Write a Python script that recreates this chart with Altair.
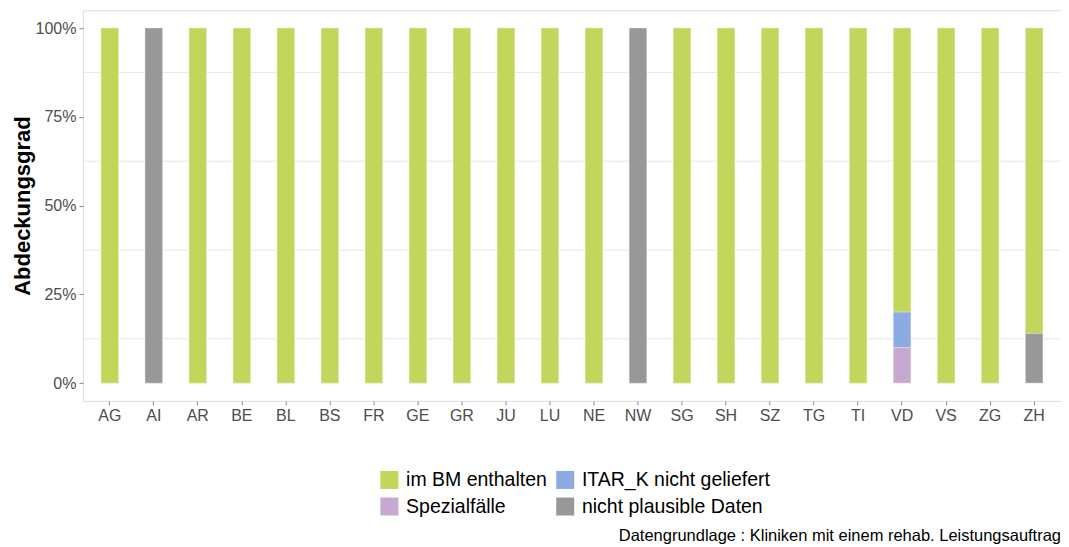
import altair as alt
import pandas as pd

cantons = ["AG","AI","AR","BE","BL","BS","FR","GE","GR","JU","LU","NE","NW",
           "SG","SH","SZ","TG","TI","VD","VS","ZG","ZH"]
im_bm      = [1,0,1,1,1,1,1,1,1,1,1,1,0,1,1,1,1,1,0.80,1,1,0.86]
itar_k     = [0,0,0,0,0,0,0,0,0,0,0,0,0,0,0,0,0,0,0.10,0,0,0]
spezial    = [0,0,0,0,0,0,0,0,0,0,0,0,0,0,0,0,0,0,0.10,0,0,0]
nicht_pl   = [0,1,0,0,0,0,0,0,0,0,0,0,1,0,0,0,0,0,0,0,0,0.14]

# legend order (column-major fill in Vega legends with 2 rows)
status_names = ["im BM enthalten", "Spezialfälle", "ITAR_K nicht geliefert", "nicht plausible Daten"]
status_colors = ["#c1d65b", "#c7a8d1", "#8eaae2", "#989898"]
stack_order = {"nicht plausible Daten": 0, "Spezialfälle": 1, "ITAR_K nicht geliefert": 2, "im BM enthalten": 3}

y_ticks = [0, 0.25, 0.5, 0.75, 1.0]
minor_grid = [0.125, 0.375, 0.625, 0.875]
caption = "Datengrundlage : Kliniken mit einem rehab. Leistungsauftrag"

series = {"im BM enthalten": im_bm, "ITAR_K nicht geliefert": itar_k,
          "Spezialfälle": spezial, "nicht plausible Daten": nicht_pl}
rows = []
for i, c in enumerate(cantons):
    for name, arr in series.items():
        if arr[i] > 0:
            rows.append({"Kanton": c, "Status": name, "Anteil": arr[i], "ord": stack_order[name]})
df = pd.DataFrame(rows)

font = "Liberation Sans"
W, H = 979, 391

xscale = alt.Scale(domain=cantons, paddingInner=0.6, paddingOuter=0.41)
yscale = alt.Scale(domain=[-0.05, 1.05], nice=False, zero=False)

grid = alt.Chart(pd.DataFrame({"g": minor_grid})).mark_rule(
    color="#e6e6e6", strokeWidth=1
).encode(y=alt.Y("g:Q", scale=yscale))

bars = alt.Chart(df).mark_bar(stroke="#f0f0f0", strokeWidth=0.4).encode(
    x=alt.X("Kanton:N", scale=xscale, sort=cantons,
            axis=alt.Axis(title=None, labelAngle=0, labelFontSize=16, labelColor="#4d4d4d",
                          labelFont=font, domain=False, ticks=True, tickSize=4,
                          tickColor="#888888", labelPadding=3, grid=False)),
    y=alt.Y("Anteil:Q", scale=yscale, stack="zero",
            axis=alt.Axis(title="Abdeckungsgrad", values=y_ticks, format=".0%",
                          labelFontSize=16, labelColor="#4d4d4d", labelFont=font,
                          titleFontSize=22, titleFont=font, titleFontWeight="bold",
                          titleColor="#000000", titlePadding=1, domain=False,
                          tickSize=4, tickColor="#888888", labelPadding=3, grid=False)),
    color=alt.Color("Status:N",
                    scale=alt.Scale(domain=status_names, range=status_colors),
                    legend=alt.Legend(title=None, orient="none", legendX=297, legendY=460,
                                      columns=2, symbolType="square", symbolSize=324,
                                      symbolStrokeWidth=0, labelFontSize=19.5, labelFont=font,
                                      labelColor="#000000", rowPadding=6, columnPadding=8,
                                      labelOffset=7, labelLimit=400)),
    order=alt.Order("ord:Q", sort="ascending"),
)

cap = alt.Chart(pd.DataFrame({"t": [caption]})).mark_text(
    align="right", baseline="middle", fontSize=16.5, font=font, color="#000000"
).encode(text="t:N", x=alt.value(W), y=alt.value(526))

chart = alt.layer(grid, bars, cap).properties(
    width=W, height=H,
    autosize=alt.AutoSizeParams(type="none"),
    padding={"left": 75, "top": 2, "right": 0, "bottom": 144},
).configure_view(stroke="#999999", strokeWidth=1).configure(background="white")

chart.save("out.html", embed_options={"renderer": "svg", "actions": False})
